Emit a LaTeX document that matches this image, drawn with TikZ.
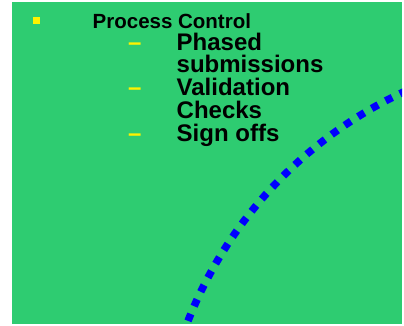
\documentclass[tikz,border=0pt]{standalone}
\usepackage{fontspec}
\setmainfont{Liberation Sans}
\usepackage{tikz}
\usetikzlibrary{positioning}
\definecolor{slidegreen}{RGB}{46,204,113}

\begin{document}
\begin{tikzpicture}[
        % Define styles for consistency
        x=1pt, y=-1pt,
        heading/.style={anchor=base west, inner sep=0pt, font=\bfseries\fontsize{20.5}{24}\selectfont},
        entry/.style={anchor=base west, inner sep=0pt, font=\bfseries\fontsize{24}{24}\selectfont},
        lead/.style={entry, text=yellow},
        marker/.style={rectangle, fill=yellow, inner sep=0pt, minimum size=6.5pt},
        boundary/.style={blue, line width=7.5pt, dash pattern=on 7.5pt off 8.4pt}
    ]

        \useasboundingbox (0,0) rectangle (404,325);

        % --- Background ---
        \fill[slidegreen] (12,2) rectangle (402,324);

        % --- Coordinates ---
        % Top level bullet
        \coordinate (bulletpos) at (36.3,20.3);
        \coordinate (headpos) at (92.5,28);
        
        % Sub items
        \coordinate (dash1) at (128,50);
        \coordinate (dash2) at (128,95.6);
        \coordinate (dash3) at (128,141.2);
        \coordinate (line1) at (176.5,50);
        \coordinate (line2) at (176.5,72.8);
        \coordinate (line3) at (176.5,95.6);
        \coordinate (line4) at (176.5,118.4);
        \coordinate (line5) at (176.5,141.2);

        % Centre of the dotted circle
        \coordinate (hub) at (581,475);

        % --- Dotted arc (drawn first so it stays behind the text) ---
        \begin{scope}
            \clip (12,2) rectangle (402,324);
            \draw[boundary] (hub) circle[radius=422pt];
        \end{scope}

        % --- Draw Nodes ---
        \node[marker] (bullet) at (bulletpos) {};
        \node[heading] (control) at (headpos) {Process Control};

        \node[lead] (lead1) at (dash1) {–};
        \node[lead] (lead2) at (dash2) {–};
        \node[lead] (lead3) at (dash3) {–};

        \node[entry] (phased) at (line1) {Phased};
        \node[entry] (submissions) at (line2) {submissions};
        \node[entry] (validation) at (line3) {Validation};
        \node[entry] (checks) at (line4) {Checks};
        \node[entry] (signoffs) at (line5) {Sign offs};

    \end{tikzpicture}
\end{document}
